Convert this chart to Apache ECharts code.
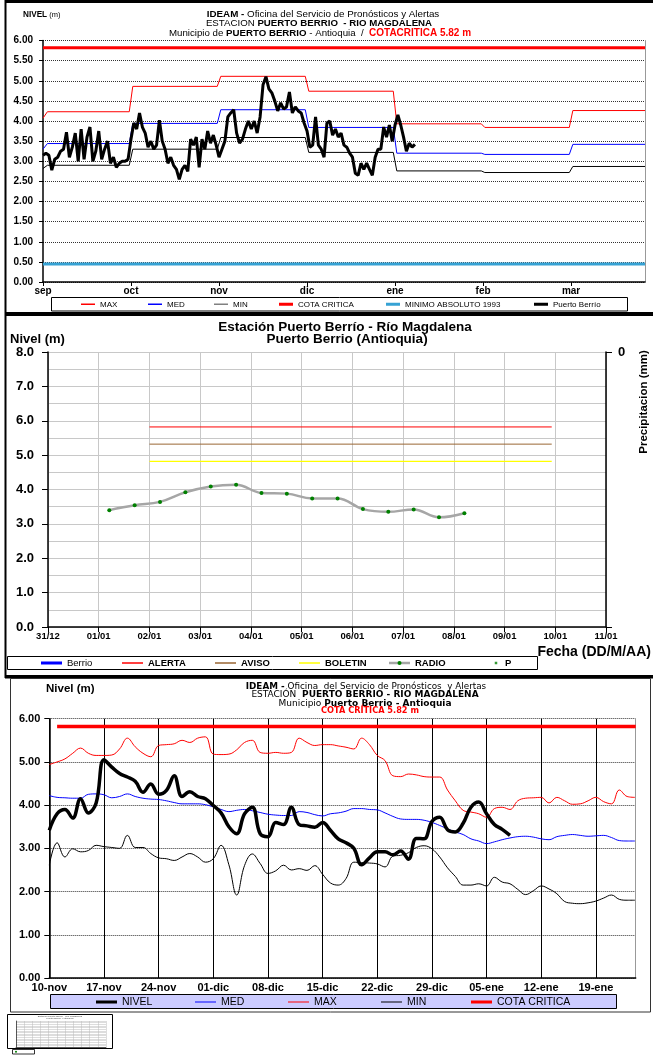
<!DOCTYPE html>
<html><head><meta charset="utf-8">
<script src="https://cdn.jsdelivr.net/npm/echarts@6.0.0/dist/echarts.min.js"></script>
<style>html,body{margin:0;padding:0;background:#fff;}#c{width:653px;height:1062px;}</style>
</head><body><div id="c"></div>
<script>
// ---------------- DATA ----------------
// Panel 1 (monthly reference levels, daily station level from 1 Sep)
const topMonths = ['sep','oct','nov','dic','ene','feb','mar'];
const topMonthDays = [30,31,30,31,31,28,31];
const topMaxStart = 4.07, topMedStart = 3.30, topMinStart = 2.82;
const topMax = [4.23, 4.86, 5.11, 4.74, 3.93, 3.84, 4.26];
const topMed = [3.44, 3.94, 4.28, 3.84, 3.20, 3.17, 3.42];
const topMin = [2.90, 3.30, 3.59, 3.22, 2.76, 2.72, 2.87];
const cotaCritica = 5.82;
const minimoAbsoluto = 0.45;
const berrioDaily = [
 3.15,3.2,3.15,2.78,3.05,3.1,3.25,3.3,3.72,3.1,3.35,3.7,3.0,3.8,3.05,3.6,3.85,3.0,3.25,3.75,3.05,3.3,3.5,2.95,3.1,2.85,2.95,3.0,3.0,3.05,
 3.55,3.95,3.8,4.2,3.85,3.7,3.35,3.5,3.3,3.4,4.02,3.5,3.3,2.95,3.1,2.9,2.8,2.55,2.8,2.9,2.75,3.55,3.4,3.6,2.85,3.55,3.3,3.75,3.45,3.65,3.4,
 3.1,3.3,3.5,4.1,4.2,4.28,3.7,3.45,3.55,3.8,4.0,3.8,4.0,3.7,4.1,4.9,5.1,4.8,4.7,4.5,4.25,4.45,4.3,4.35,4.72,4.2,4.35,4.25,4.2,3.95,
 3.75,3.35,3.4,4.1,3.4,3.3,3.1,3.95,4.0,3.65,3.8,3.6,3.7,3.4,3.35,3.2,3.1,2.7,2.65,2.95,2.8,2.95,2.8,2.65,3.1,3.3,3.3,3.85,3.6,3.9,3.5,
 3.9,4.15,3.9,3.6,3.25,3.45,3.35,3.42
];

// Panel 2 (radio readings, hours after 31/12 00:00)
const midDateLabels = ['31/12','01/01','02/01','03/01','04/01','05/01','06/01','07/01','08/01','09/01','10/01','11/01'];
const radioHours = [29,41,53,65,77,89,101,113,125,137,149,161,173,185,197];
const radioLevels = [3.40,3.54,3.64,3.92,4.09,4.14,3.90,3.88,3.74,3.74,3.43,3.35,3.42,3.19,3.31];
const alerta = 5.82, aviso = 5.32, boletin = 4.82;
const thresholdFromDay = 2.0, thresholdToDay = 9.93;

// Panel 3 (daily from 10-nov)
const weekLabels = ['10-nov','17-nov','24-nov','01-dic','08-dic','15-dic','22-dic','29-dic','05-ene','12-ene','19-ene'];
const nivel = [3.42,3.8,3.9,3.7,4.15,3.82,4.05,5.05,4.88,4.73,4.65,4.55,4.3,4.49,4.25,4.34,4.68,4.2,4.31,4.2,
 4.15,3.99,3.82,3.5,3.34,3.8,3.95,3.34,3.27,3.6,3.55,3.95,3.55,3.52,3.49,3.6,3.42,3.22,3.13,3.0,
 2.62,2.78,2.92,2.92,2.85,2.94,2.75,3.23,3.22,3.62,3.72,3.43,3.38,3.58,3.95,4.07,3.8,3.55,3.44,3.3];
const med = [4.22,4.18,4.17,4.16,4.16,4.25,4.26,4.24,4.17,4.2,4.26,4.2,4.16,4.14,4.13,4.1,4.06,4.03,4.03,4.03,
 4.01,3.96,3.9,3.85,3.88,3.9,3.87,3.83,3.79,3.77,3.76,3.76,3.85,3.83,3.78,3.75,3.8,3.82,3.86,3.92,
 3.92,3.9,3.89,3.82,3.74,3.68,3.67,3.67,3.65,3.6,3.53,3.45,3.38,3.32,3.22,3.17,3.11,3.15,3.2,3.24,
 3.27,3.28,3.26,3.22,3.2,3.27,3.3,3.32,3.3,3.28,3.29,3.3,3.25,3.18,3.17,3.17];
const max = [4.94,5.0,5.07,5.2,5.32,5.2,5.15,5.15,5.16,5.3,5.55,5.35,5.2,5.12,5.38,5.4,5.42,5.5,5.45,5.55,
 5.58,5.18,5.17,5.18,5.28,5.45,5.5,5.22,5.2,5.22,5.2,5.22,5.55,5.45,5.38,5.4,5.4,5.37,5.34,5.3,
 5.55,5.4,5.15,5.03,4.68,4.66,4.72,4.7,4.66,4.65,4.65,4.35,4.1,3.88,3.84,3.8,3.72,3.92,3.95,3.9,
 4.1,4.16,4.17,4.18,4.05,4.18,4.1,4.02,4.03,4.1,4.18,4.08,4.03,4.35,4.2,4.18];
const min = [2.61,3.13,2.8,2.99,2.92,2.95,3.07,3.04,3.02,3.0,3.3,3.02,3.02,2.88,2.78,2.76,2.72,2.8,2.88,2.8,
 2.68,2.76,3.07,2.62,1.92,2.6,2.87,2.65,2.42,2.48,2.61,2.5,2.53,2.49,2.6,2.4,2.2,2.15,2.3,2.68,
 2.67,2.66,2.64,2.57,2.82,2.84,2.9,3.02,3.06,2.99,2.8,2.55,2.35,2.15,2.15,2.18,2.13,2.33,2.22,2.18,
 2.05,1.93,2.02,2.13,2.06,1.95,1.77,1.73,1.72,1.74,1.78,1.85,1.92,1.82,1.8,1.8];
const cotaFromDay = 1, bottomDays = 75.1;

// ---------------- BUILD ----------------
const FONT = '"Liberation Sans", Arial, Helvetica, sans-serif';
const WFONT = '"DejaVu Sans", Verdana, sans-serif';
const TOPX = 6.84;
const ZW = '\u200b';
function dayToMonthX(d){let m=0,s=0;while(m<topMonthDays.length-1&&d>=s+topMonthDays[m]){s+=topMonthDays[m];m++;}return m+(d-s)/topMonthDays[m];}
function stepPoints(start, vals){
  const pts=[[0,start]];
  vals.forEach((v,m)=>{pts.push([m===0?0.05:m+0.02,v]);pts.push([m===vals.length-1?TOPX:m+0.98,v]);});
  return pts;
}
const berrioPts = berrioDaily.map((v,i)=>[dayToMonthX(i),v]);
const ln = (c,w)=>({color:c,width:w||1});
function linePath(w,h,t){const y=(h-t)/2;return `path://M0,0h0.01v0.01h-0.01zM${w-0.01},${h-0.01}h0.01v0.01h-0.01zM0,${y}h${w}v${t}h-${w}z`;}
function dotPath(w,h,s){const x=(w-s)/2,y=(h-s)/2;return `path://M0,0h0.01v0.01h-0.01zM${w-0.01},${h-0.01}h0.01v0.01h-0.01zM${x},${y}h${s}v${s}h-${s}z`;}
function legendItem(name,textX,centerY,iw,ih,icon,textStyle,color){
  const d={name,icon};
  if(color) d.itemStyle={color:color,borderWidth:0};
  return {left:textX-iw-5,top:centerY-ih/2,padding:0,itemGap:0,itemWidth:iw,itemHeight:ih,selectedMode:false,
    itemStyle:{borderWidth:0},textStyle:Object.assign({color:'#000',fontFamily:FONT},textStyle),data:[d]};
}
const topLegTS={fontSize:8}, midLegTS={fontSize:9.5,fontWeight:'bold'}, botLegTS={fontSize:10.5};
const legends=[
  legendItem('MAX',100,304.3,14,10,linePath(14,10,1.5),topLegTS),
  legendItem('MED',167,304.3,14,10,linePath(14,10,1.5),topLegTS),
  legendItem('MIN',233,304.3,14,10,linePath(14,10,1.5),topLegTS,'#808080'),
  legendItem('COTA CRITICA',298,304.3,14,10,linePath(14,10,3),topLegTS),
  legendItem('MINIMO ABSOLUTO 1993',405,304.3,14,10,linePath(14,10,3),topLegTS),
  legendItem('Puerto Berrío',553,304.3,14,10,linePath(14,10,3),topLegTS),
  legendItem('Berrio',67,663,21,10,linePath(21,10,3),{fontSize:9.5,fontWeight:'normal'}),
  legendItem('ALERTA',148,663,21,10,linePath(21,10,1.5),midLegTS),
  legendItem('AVISO',241,663,21,10,linePath(21,10,1.5),midLegTS),
  legendItem('BOLETIN',325,663,21,10,linePath(21,10,1.5),midLegTS),
  legendItem('RADIO',415,663,21,10,linePath(21,10,2.5),midLegTS,'#a6a6a6'),
  legendItem('P',505,663,8,10,dotPath(8,10,2.5),midLegTS),
  legendItem('NIVEL',122,1001.5,21,10,linePath(21,10,3),botLegTS),
  legendItem('MED'+ZW,221,1001.5,21,10,linePath(21,10,1.2),botLegTS),
  legendItem('MAX'+ZW,314,1001.5,21,10,linePath(21,10,1.2),botLegTS),
  legendItem('MIN'+ZW,407,1001.5,21,10,linePath(21,10,1.2),botLegTS),
  legendItem('COTA CRITICA'+ZW,497,1001.5,21,10,linePath(21,10,3),botLegTS)
];

const chart = echarts.init(document.getElementById('c'));
const gridBase = {containLabel:false, outerBoundsMode:'none'};
const option = {
  animation:false,
  textStyle:{fontFamily:FONT},
  grid:[
    Object.assign({left:43, top:40.5, width:602, height:241.5}, gridBase),
    Object.assign({left:48, top:352, width:558, height:275}, gridBase),
    Object.assign({left:49.3, top:718.7, width:586.4, height:259.3}, gridBase),
    Object.assign({left:16, top:1021, width:90, height:26}, gridBase)
  ],
  xAxis:[
    {gridIndex:0, type:'value', min:0, max:TOPX, interval:1,
     axisLine:{lineStyle:{color:'#000',width:1.5}},
     axisTick:{show:true,length:4,lineStyle:{color:'#000'},customValues:[0,1,2,3,4,5,6]},
     axisLabel:{customValues:[0,1,2,3,4,5,6],formatter:v=>topMonths[Math.round(v)]||'',fontWeight:'bold',fontSize:10,color:'#000',margin:4,fontFamily:FONT},
     splitLine:{show:false}},
    {gridIndex:1, type:'value', min:0, max:11, interval:1,
     axisLine:{lineStyle:{color:'#000',width:1.5}},
     axisTick:{show:true,length:5,lineStyle:{color:'#000'}},
     axisLabel:{formatter:v=>midDateLabels[Math.round(v)]||'',fontWeight:'bold',fontSize:9.5,color:'#000',margin:4,fontFamily:FONT},
     splitLine:{show:true,lineStyle:{color:'#c8c8c8',width:1}}},
    {gridIndex:2, type:'value', min:0, max:bottomDays, interval:7,
     axisLine:{lineStyle:{color:'#000',width:1.5}},
     axisTick:{show:false},
     axisLabel:{customValues:[0,7,14,21,28,35,42,49,56,63,70],formatter:v=>weekLabels[Math.round(v/7)]||'',fontWeight:'bold',fontSize:11,color:'#000',margin:4,fontFamily:FONT},
     splitLine:{show:true,lineStyle:{color:['#000','#000','#000','#000','#000','#000','#000','#000','#000','#000','#000','#999'],width:1}}},
    {gridIndex:3, type:'value', min:0, max:11, interval:1,
     axisLine:{lineStyle:{color:'#000',width:0.6}}, axisTick:{show:false}, axisLabel:{show:false},
     splitLine:{show:true,lineStyle:{color:'#bbb',width:0.5}}}
  ],
  yAxis:[
    {gridIndex:0, type:'value', min:0, max:6, interval:0.5,
     axisLine:{show:true,lineStyle:{color:'#000',width:1.5}},
     axisTick:{show:true,length:4,lineStyle:{color:'#000'}},
     axisLabel:{formatter:v=>v.toFixed(2),fontWeight:'bold',fontSize:10,color:'#000',margin:10,fontFamily:FONT},
     splitLine:{show:true,lineStyle:{color:'#333',type:'dotted',width:1}}},
    {gridIndex:0, type:'value', position:'right', min:0, max:6,
     axisLine:{show:true,lineStyle:{color:'#999',width:1}}, axisTick:{show:false}, axisLabel:{show:false}, splitLine:{show:false}},
    {gridIndex:1, type:'value', min:0, max:8, interval:1,
     axisLine:{show:true,lineStyle:{color:'#000',width:1.5}},
     axisTick:{show:true,length:6,lineStyle:{color:'#000'}},
     axisLabel:{formatter:v=>v.toFixed(1),fontWeight:'bold',fontSize:13,color:'#000',margin:14,fontFamily:FONT},
     splitLine:{show:true,lineStyle:{color:'#c8c8c8',width:1}},
     minorTick:{show:false,splitNumber:2},
     minorSplitLine:{show:true,lineStyle:{color:'#c8c8c8',width:1}}},
    {gridIndex:1, type:'value', position:'right', min:0, max:10, interval:10, inverse:true,
     axisLine:{show:true,lineStyle:{color:'#000',width:1.5}},
     axisTick:{show:true,length:6,lineStyle:{color:'#000'}},
     axisLabel:{formatter:v=>v===0?'0':'',fontWeight:'bold',fontSize:13,color:'#000',margin:12,fontFamily:FONT},
     splitLine:{show:false}},
    {gridIndex:2, type:'value', min:0, max:6, interval:1,
     axisLine:{show:true,lineStyle:{color:'#000',width:1.5}},
     axisTick:{show:true,length:5,lineStyle:{color:'#000'}},
     axisLabel:{formatter:v=>v.toFixed(2),fontWeight:'bold',fontSize:11,color:'#000',margin:9,fontFamily:FONT},
     splitLine:{show:true,lineStyle:{color:'#333',type:'dotted',width:1}}},
    {gridIndex:3, type:'value', min:0, max:8, interval:0.5,
     axisLine:{show:true,lineStyle:{color:'#000',width:0.6}}, axisTick:{show:false}, axisLabel:{show:false},
     splitLine:{show:true,lineStyle:{color:'#bbb',width:0.5}}}
  ],
  legend:legends,
  series:[
    // panel 1
    {name:'MAX',type:'line',xAxisIndex:0,yAxisIndex:0,symbol:'none',data:stepPoints(topMaxStart,topMax),lineStyle:ln('#ff0000'),color:'#ff0000'},
    {name:'MED',type:'line',xAxisIndex:0,yAxisIndex:0,symbol:'none',data:stepPoints(topMedStart,topMed),lineStyle:ln('#0000ff'),color:'#0000ff'},
    {name:'MIN',type:'line',xAxisIndex:0,yAxisIndex:0,symbol:'none',data:stepPoints(topMinStart,topMin),lineStyle:ln('#000'),color:'#000'},
    {name:'COTA CRITICA',type:'line',xAxisIndex:0,yAxisIndex:0,symbol:'none',data:[[0,cotaCritica],[TOPX,cotaCritica]],lineStyle:ln('#ff0000',3),color:'#ff0000'},
    {name:'MINIMO ABSOLUTO 1993',type:'line',xAxisIndex:0,yAxisIndex:0,symbol:'none',data:[[0,minimoAbsoluto],[TOPX,minimoAbsoluto]],lineStyle:ln('#36a2d4',3),color:'#36a2d4'},
    {name:'Puerto Berrío',type:'line',xAxisIndex:0,yAxisIndex:0,symbol:'none',data:berrioPts,lineStyle:ln('#000',3),color:'#000'},
    // panel 2
    {name:'Berrio',type:'line',xAxisIndex:1,yAxisIndex:2,symbol:'none',data:[],lineStyle:ln('#0000ff',3),color:'#0000ff'},
    {name:'ALERTA',type:'line',xAxisIndex:1,yAxisIndex:2,symbol:'none',data:[[thresholdFromDay,alerta],[thresholdToDay,alerta]],lineStyle:ln('#ff0000',1),color:'#ff0000'},
    {name:'AVISO',type:'line',xAxisIndex:1,yAxisIndex:2,symbol:'none',data:[[thresholdFromDay,aviso],[thresholdToDay,aviso]],lineStyle:ln('#996633',1),color:'#996633'},
    {name:'BOLETIN',type:'line',xAxisIndex:1,yAxisIndex:2,symbol:'none',data:[[thresholdFromDay,boletin],[thresholdToDay,boletin]],lineStyle:ln('#ffff00',1.2),color:'#ffff00'},
    {name:'RADIO',type:'line',xAxisIndex:1,yAxisIndex:2,smooth:0.4,symbol:'circle',symbolSize:4,
     data:radioHours.map((h,i)=>[h/24,radioLevels[i]]),lineStyle:{color:'#a6a6a6',width:2.5},itemStyle:{color:'#008000',borderWidth:0},color:'#008000'},
    {name:'P',type:'scatter',xAxisIndex:1,yAxisIndex:2,symbol:'rect',symbolSize:3,data:[],itemStyle:{color:'#008000'}},
    // panel 3
    {name:'MAX'+ZW,type:'line',xAxisIndex:2,yAxisIndex:4,smooth:0.4,symbol:'none',data:max.map((v,i)=>[i,v]),lineStyle:ln('#ff0000',1),color:'#ff0000'},
    {name:'MED'+ZW,type:'line',xAxisIndex:2,yAxisIndex:4,smooth:0.4,symbol:'none',data:med.map((v,i)=>[i,v]),lineStyle:ln('#0000ff',1),color:'#0000ff'},
    {name:'MIN'+ZW,type:'line',xAxisIndex:2,yAxisIndex:4,smooth:0.4,symbol:'none',data:min.map((v,i)=>[i,v]),lineStyle:ln('#000',1),color:'#000'},
    {name:'COTA CRITICA'+ZW,type:'line',xAxisIndex:2,yAxisIndex:4,symbol:'none',data:[[cotaFromDay,cotaCritica],[bottomDays,cotaCritica]],lineStyle:ln('#ff0000',3.5),color:'#ff0000'},
    {name:'NIVEL',type:'line',xAxisIndex:2,yAxisIndex:4,smooth:0.4,symbol:'none',data:nivel.map((v,i)=>[i,v]),lineStyle:ln('#000',3.5),color:'#000'}
  ],
  graphic:{elements:[
    // frames
    {type:'rect',shape:{x:5,y:0,width:648,height:3},style:{fill:'#000'},silent:true},
    {type:'rect',shape:{x:4.5,y:0,width:2,height:678},style:{fill:'#000'},silent:true},
    {type:'rect',shape:{x:5,y:312,width:648,height:4},style:{fill:'#000'},silent:true},
    {type:'rect',shape:{x:5,y:675,width:648,height:3.5},style:{fill:'#000'},silent:true},
    {type:'rect',shape:{x:10.5,y:678.5,width:640,height:333.5},style:{fill:'none',stroke:'#333',lineWidth:1},silent:true},
    // legend boxes
    {type:'rect',shape:{x:51.5,y:297.5,width:576,height:13.5},style:{fill:'#fff',stroke:'#000',lineWidth:1},silent:true},
    {type:'rect',shape:{x:7.5,y:656.5,width:530,height:13},style:{fill:'#fff',stroke:'#000',lineWidth:1},silent:true},
    {type:'rect',shape:{x:50.5,y:994.5,width:566,height:14},style:{fill:'#ccccff',stroke:'#000',lineWidth:1},silent:true},
    {type:'circle',z:10,shape:{cx:399.5,cy:663,r:2},style:{fill:'#008000'},silent:true},
    // panel 1 texts
    {type:'text',style:{x:23,y:14.5,text:'{b|NIVEL} (m)',fontSize:7.5,fontFamily:FONT,fill:'#000',verticalAlign:'middle',rich:{b:{fontWeight:'bold',fontSize:8.2,fontFamily:FONT}}}},
    {type:'text',style:{x:323,y:14.5,text:'{b|IDEAM -} Oficina del Servicio de Pronósticos y Alertas',fontSize:9.8,fontFamily:FONT,fill:'#000',align:'center',verticalAlign:'middle',rich:{b:{fontWeight:'bold',fontSize:9.8,fontFamily:FONT}}}},
    {type:'text',style:{x:319,y:23.5,text:'ESTACION {b|PUERTO BERRIO  - RIO MAGDALENA}',fontSize:9.7,fontFamily:FONT,fill:'#000',align:'center',verticalAlign:'middle',rich:{b:{fontWeight:'bold',fontSize:9.7,fontFamily:FONT}}}},
    {type:'text',style:{x:320,y:33.5,text:'Municipio de {b|PUERTO BERRIO} - Antioquia  /  {r|COTACRITICA 5.82 m}',fontSize:9.7,fontFamily:FONT,fill:'#000',align:'center',verticalAlign:'middle',rich:{b:{fontWeight:'bold',fontSize:9.7,fontFamily:FONT},r:{fontWeight:'bold',fontSize:10,fill:'#ff0000',color:'#ff0000',fontFamily:FONT}}}},
    // panel 2 texts
    {type:'text',style:{x:345,y:327.5,text:'Estación Puerto Berrío - Río Magdalena',fontSize:13.5,fontWeight:'bold',fontFamily:FONT,fill:'#000',align:'center',verticalAlign:'middle'}},
    {type:'text',style:{x:347,y:339.5,text:'Puerto Berrio (Antioquia)',fontSize:13.5,fontWeight:'bold',fontFamily:FONT,fill:'#000',align:'center',verticalAlign:'middle'}},
    {type:'text',style:{x:10,y:339,text:'Nivel (m)',fontSize:13,fontWeight:'bold',fontFamily:FONT,fill:'#000',verticalAlign:'middle'}},
    {type:'text',rotation:Math.PI/2,x:644,y:402,style:{x:0,y:0,text:'Precipitacion (mm)',fontSize:11.5,fontWeight:'bold',fontFamily:FONT,fill:'#000',align:'center',verticalAlign:'middle'}},
    {type:'text',style:{x:651,y:652,text:'Fecha (DD/M/AA)',fontSize:14,fontWeight:'bold',fontFamily:FONT,fill:'#000',align:'right',verticalAlign:'middle'}},
    // panel 3 texts
    {type:'text',style:{x:46,y:689,text:'Nivel (m)',fontSize:11.5,fontWeight:'bold',fontFamily:FONT,fill:'#000',verticalAlign:'middle'}},
    {type:'text',style:{x:366,y:686.5,text:'{b|IDEAM -} Oficina  del Servicio de Pronósticos  y Alertas',fontSize:8.8,fontFamily:WFONT,fill:'#000',align:'center',verticalAlign:'middle',rich:{b:{fontWeight:'bold',fontSize:8.8,fontFamily:WFONT}}}},
    {type:'text',style:{x:365,y:695,text:'ESTACIÓN  {b|PUERTO BERRIO - RIO MAGDALENA}',fontSize:9,fontFamily:WFONT,fill:'#000',align:'center',verticalAlign:'middle',rich:{b:{fontWeight:'bold',fontSize:9,fontFamily:WFONT}}}},
    {type:'text',style:{x:365,y:703.3,text:'Municipio {b|Puerto Berrio - Antioquia}',fontSize:9,fontFamily:WFONT,fill:'#000',align:'center',verticalAlign:'middle',rich:{b:{fontWeight:'bold',fontSize:9,fontFamily:WFONT}}}},
    {type:'text',style:{x:370,y:710.8,text:'COTA CRÍTICA 5.82 m',fontSize:8.2,fontWeight:'bold',fontFamily:WFONT,fill:'#ff0000',align:'center',verticalAlign:'middle'}},
    // thumbnail
    {type:'rect',shape:{x:7.5,y:1014.5,width:105,height:34},style:{fill:'none',stroke:'#000',lineWidth:1},silent:true},
    {type:'text',style:{x:60,y:1016.5,text:'Estación Puerto Berrío - Río Magdalena',fontSize:2.5,fontFamily:FONT,fill:'#444',align:'center',verticalAlign:'middle'}},
    {type:'text',style:{x:60,y:1018.5,text:'Puerto Berrio (Antioquia)',fontSize:2.5,fontFamily:FONT,fill:'#444',align:'center',verticalAlign:'middle'}},
    {type:'rect',shape:{x:12.5,y:1049.5,width:22,height:4.5},style:{fill:'#fff',stroke:'#000',lineWidth:0.8},silent:true},
    {type:'circle',shape:{cx:16,cy:1051.7,r:1},style:{fill:'#008000'},silent:true}
  ]}
};
chart.setOption(option);
</script></body></html>
